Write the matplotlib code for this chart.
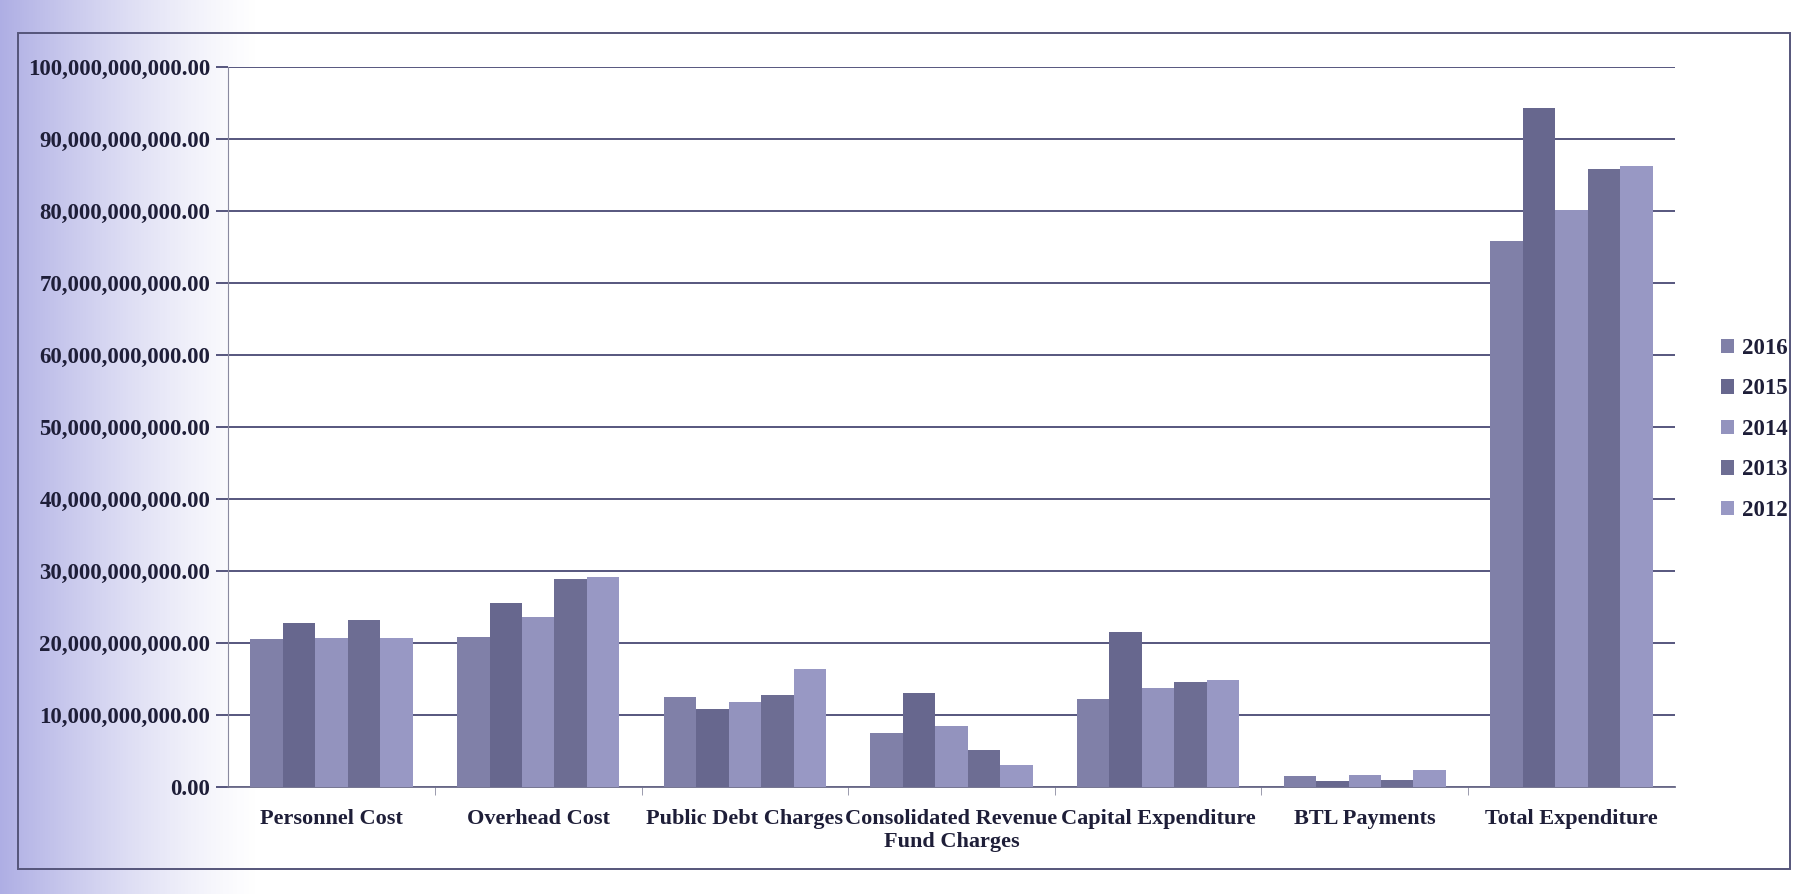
import numpy as np
import matplotlib
matplotlib.use("Agg")
import matplotlib.pyplot as plt
from matplotlib.ticker import FuncFormatter, MultipleLocator, FixedLocator
from matplotlib.patches import Rectangle, Patch

plt.rcParams["font.family"] = ["Liberation Serif", "DejaVu Serif"]
plt.rcParams["font.weight"] = "bold"

# expenditure by category, in billions
categories = ["Personnel Cost", "Overhead Cost", "Public Debt Charges",
              "Consolidated Revenue\nFund Charges", "Capital Expenditure",
              "BTL Payments", "Total Expenditure"]
years = ["2016", "2015", "2014", "2013", "2012"]
y2016 = [20.5, 20.8, 12.4, 7.5, 12.2, 1.5, 75.8]
y2015 = [22.7, 25.5, 10.8, 13.0, 21.5, 0.8, 94.3]
y2014 = [20.7, 23.6, 11.8, 8.4, 13.7, 1.6, 80.2]
y2013 = [23.2, 28.8, 12.8, 5.1, 14.6, 1.0, 85.8]
y2012 = [20.6, 29.2, 16.3, 3.0, 14.8, 2.3, 86.2]
series = [y2016, y2015, y2014, y2013, y2012]
colors = ["#8080a8", "#67678e", "#9393be", "#6d6d93", "#9898c4"]

TXT = "#1e1e38"
GRID = "#3a3a68"

fig = plt.figure(figsize=(17.97, 8.94), dpi=100)

# scanner tint along the left edge
bg = fig.add_axes([0, 0, 1, 1], zorder=-5)
bg.axis("off")
w = 400
alpha = np.clip(1 - np.linspace(0, 1, w) / 0.65, 0, 1) ** 1.3 * 0.75
img = np.zeros((2, w, 4))
img[..., 0], img[..., 1], img[..., 2] = 0.58, 0.58, 0.86
img[..., 3] = alpha
bg.imshow(img, extent=[0, w / 1797, 0, 1], aspect="auto")
bg.set_xlim(0, 1); bg.set_ylim(0, 1)

# outer chart frame
fig.patches.append(Rectangle((0.010, 0.028), 0.986, 0.935, transform=fig.transFigure,
                             fill=False, edgecolor="#55557a", lw=1.4))

ax = fig.add_axes([0.127, 0.12, 0.805, 0.805])
x = np.arange(len(categories))
bw = 0.157
for i, (vals, c) in enumerate(zip(series, colors)):
    ax.bar(x + (i - 2) * bw, [v * 1e9 for v in vals], bw, color=c, label=years[i],
           linewidth=0, zorder=3)

ax.set_xlim(-0.5, len(categories) - 0.5)
ax.set_ylim(0, 100e9)
ax.yaxis.set_major_locator(MultipleLocator(10e9))
ax.yaxis.set_major_formatter(FuncFormatter(lambda v, p: f"{v:,.2f}"))
ax.grid(axis="y", color=GRID, lw=1.2, zorder=0)
ax.set_axisbelow(True)
for s in ["top", "right"]:
    ax.spines[s].set_visible(False)
ax.spines["left"].set_color("#8a8aa0")
ax.spines["bottom"].set_color("#6a6a88")
ax.spines["bottom"].set_linewidth(1.3)
ax.tick_params(axis="y", length=9, color=GRID, width=1.2, labelsize=16.5,
               labelcolor=TXT, pad=4)
ax.set_xticks(x)
ax.set_xticklabels(categories, fontsize=16, color=TXT, fontweight="bold")
ax.tick_params(axis="x", length=0, pad=16)
ax.xaxis.set_minor_locator(FixedLocator(x[1:] - 0.5))
ax.tick_params(axis="x", which="minor", length=6, color="#8a8aa0")
for t in ax.get_yticklabels():
    t.set_fontweight("bold")

handles = [Patch(facecolor=c, edgecolor="none") for c in colors]
fig.legend(handles, years, loc="upper left", bbox_to_anchor=(0.946, 0.645),
           frameon=False, handlelength=0.6, handleheight=0.6,
           handletextpad=0.35, labelspacing=0.85, labelcolor=TXT,
           prop={"weight": "bold", "size": 16.5})

fig.savefig("out.png", dpi=100, facecolor="white")
